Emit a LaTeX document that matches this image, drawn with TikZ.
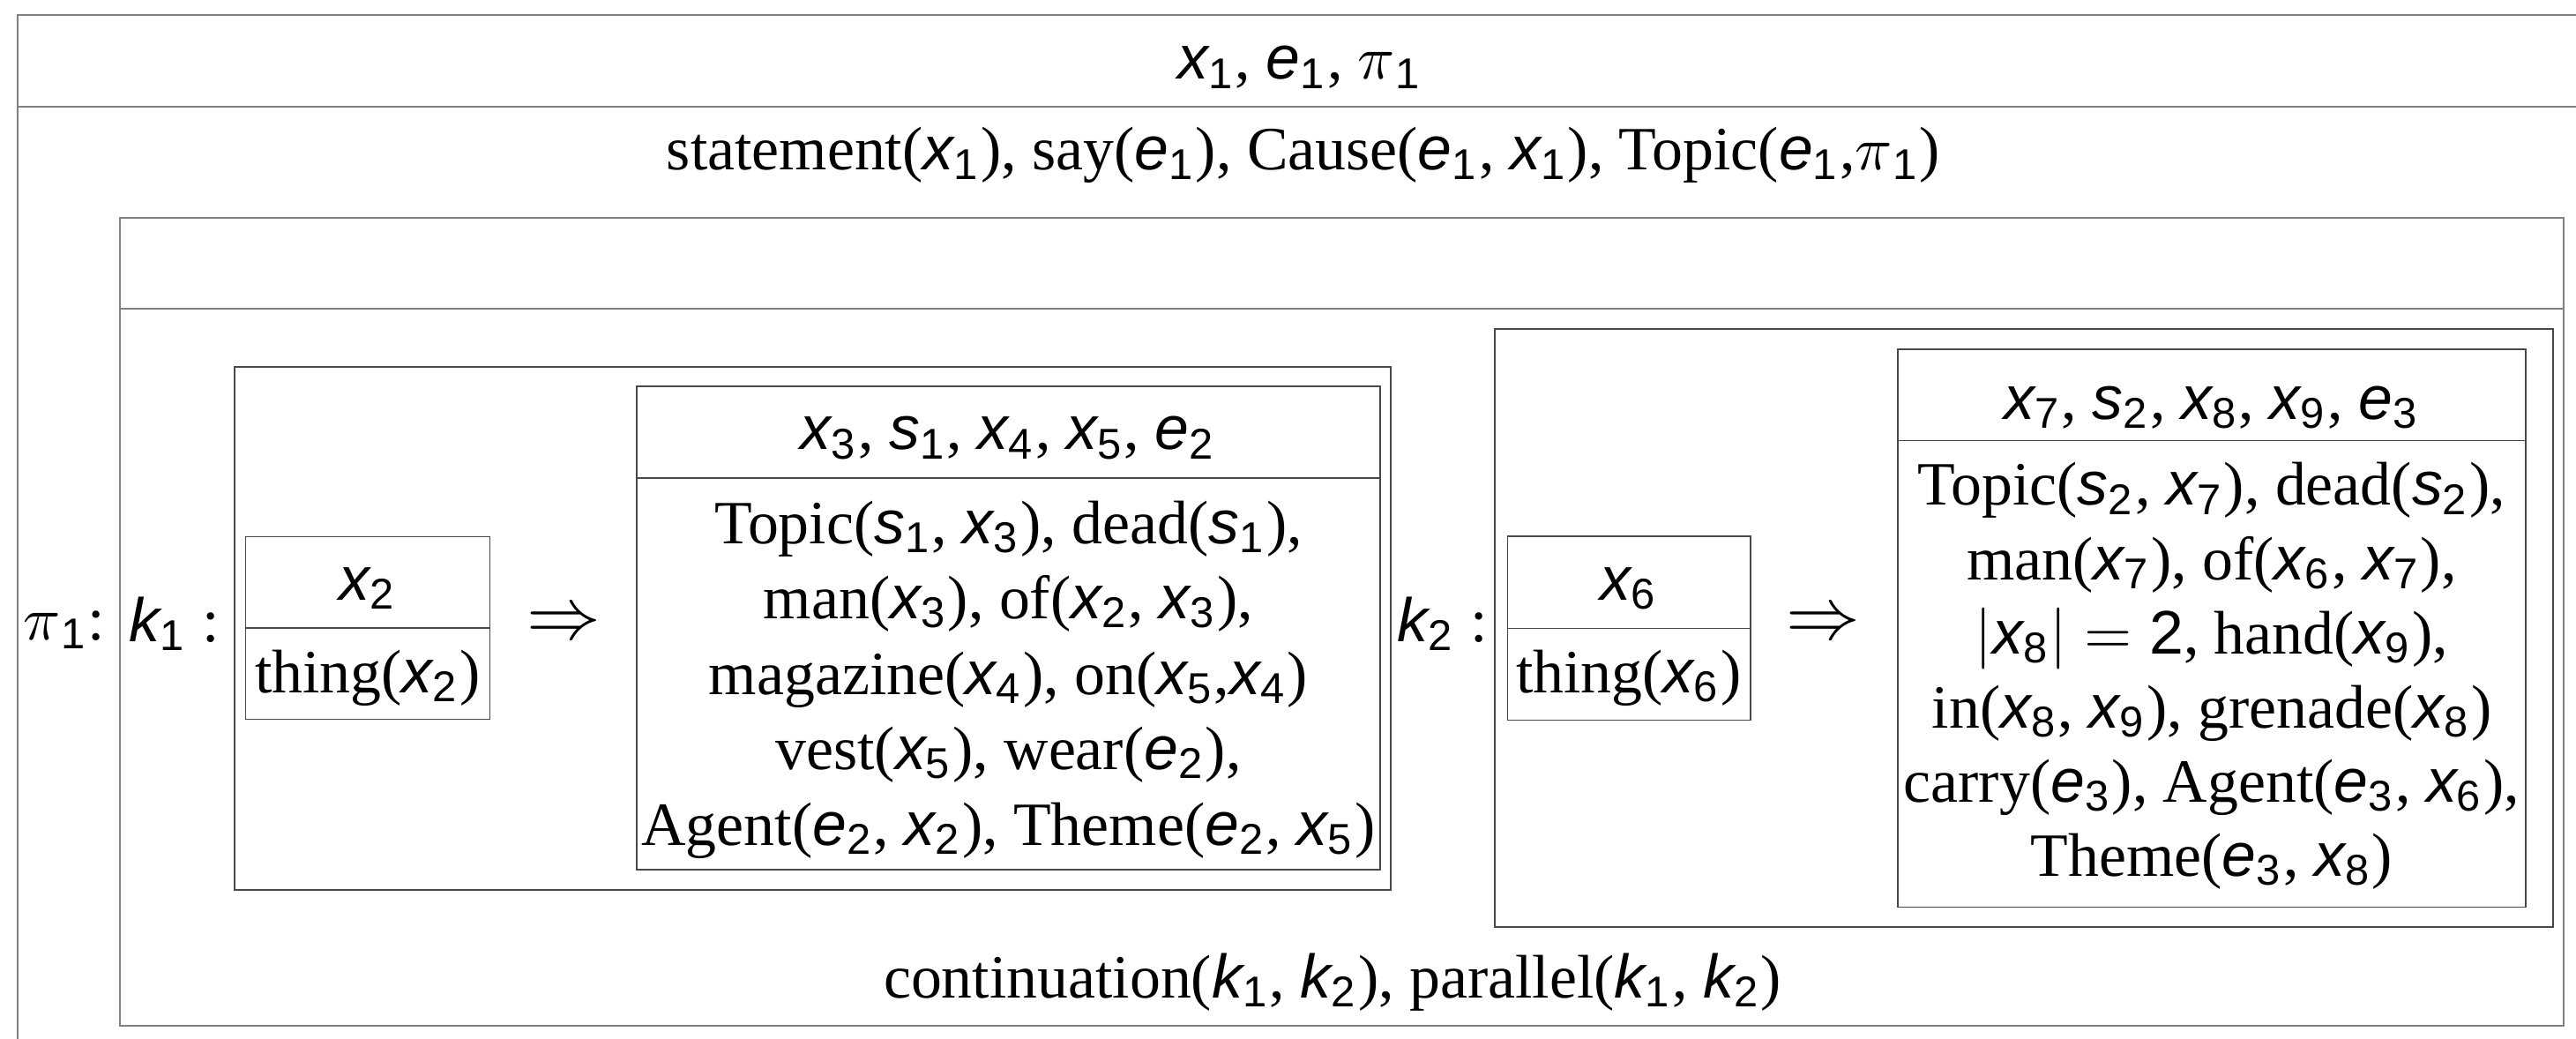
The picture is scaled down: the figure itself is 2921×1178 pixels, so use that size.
\documentclass[tikz,border=0pt]{standalone}
\usepackage{fontspec}
\setmainfont{Liberation Serif}
\newfontfamily\hv{Liberation Sans}
\newcommand\V[2]{{\hv\itshape #1}\textsubscript{\hv #2}}
\newcommand\PIone{$\pi$\textsubscript{\hv 1}}
\definecolor{outerc}{HTML}{808080}
\definecolor{innerc}{HTML}{484848}
\begin{document}
\begin{tikzpicture}[x=0.1433pt,y=-0.1433pt,
  outerline/.style={draw=outerc, line width=0.3pt},
  boxline/.style={draw=innerc, line width=0.2pt},
  txt/.style={inner sep=0pt, anchor=base, font=\fontsize{10}{12}\selectfont},
  implies/.style={inner sep=0pt, font=\fontsize{12}{14}\selectfont}]
\useasboundingbox (0,0) rectangle (2921,1178);
% outermost DRS (open to the right and bottom)
\coordinate (oTL) at (20,17);
\draw[outerline] (20,1190) -- (oTL) -- (2935,17);
\draw[outerline] (20,121) -- (2935,121);
\node[txt] (hdr) at (1474,90) {\V{x}{1}, \V{e}{1}, \PIone};
\node[txt] (cond) at (1478,193) {statement(\V{x}{1}), say(\V{e}{1}), Cause(\V{e}{1}, \V{x}{1}), Topic(\V{e}{1},\PIone)};
% pi1 box
\coordinate (pTL) at (136,247);
\coordinate (pBR) at (2907,1163);
\draw[outerline] (pTL) rectangle (pBR);
\draw[outerline] (136,350) -- (2907,350);
\node[txt] (pilab) at (73,725) {\PIone:};
\node[txt] (k1lab) at (198,727) {\V{k}{1} :};
\node[txt] (k2lab) at (1636,727) {\V{k}{2} :};
\node[txt] (rel) at (1511,1131) {continuation(\V{k}{1}, \V{k}{2}), parallel(\V{k}{1}, \V{k}{2})};
% k1 box
\draw[boxline] (266,416) rectangle (1577,1009);
% x2 box
\draw[boxline] (278.6,608.7) rectangle (555.6,815.7);
\draw[boxline] (278.6,712) -- (555.6,712);
\node[txt] (x2h) at (417,680) {\V{x}{2}};
\node[txt] (x2b) at (417,785) {thing(\V{x}{2})};
\node[implies] (imp1) at (639,709) {$\Rightarrow$};
% consequent box 1
\draw[boxline] (722,438) rectangle (1565,986);
\draw[boxline] (722,542) -- (1565,542);
\node[txt] (c1h) at (1143.5,510) {\V{x}{3}, \V{s}{1}, \V{x}{4}, \V{x}{5}, \V{e}{2}};
\node[txt] (c1a) at (1143.5,616) {Topic(\V{s}{1}, \V{x}{3}), dead(\V{s}{1}),};
\node[txt] (c1b) at (1143.5,701.5) {man(\V{x}{3}), of(\V{x}{2}, \V{x}{3}),};
\node[txt] (c1c) at (1143.5,787) {magazine(\V{x}{4}), on(\V{x}{5},\V{x}{4})};
\node[txt] (c1d) at (1143.5,872.5) {vest(\V{x}{5}), wear(\V{e}{2}),};
\node[txt] (c1e) at (1143.5,958) {Agent(\V{e}{2}, \V{x}{2}), Theme(\V{e}{2}, \V{x}{5})};
% k2 box
\draw[boxline] (1695,373) rectangle (2895,1051);
% x6 box
\draw[boxline] (1709.5,608) rectangle (1985,816.5);
\draw[boxline] (1709.5,712.5) -- (1985,712.5);
\node[txt] (x6h) at (1847,680) {\V{x}{6}};
\node[txt] (x6b) at (1847,785) {thing(\V{x}{6})};
\node[implies] (imp2) at (2067.6,709) {$\Rightarrow$};
% consequent box 2
\draw[boxline] (2152,396) rectangle (2864,1028.6);
\draw[boxline] (2152,499.5) -- (2864,499.5);
\node[txt] (c2h) at (2508,475) {\V{x}{7}, \V{s}{2}, \V{x}{8}, \V{x}{9}, \V{e}{3}};
\node[txt] (c2a) at (2508,573) {Topic(\V{s}{2}, \V{x}{7}), dead(\V{s}{2}),};
\node[txt] (c2b) at (2508,657) {man(\V{x}{7}), of(\V{x}{6}, \V{x}{7}),};
\node[txt] (c2c) at (2508,741) {$|$\V{x}{8}$| = \mbox{\hv 2}$, hand(\V{x}{9}),};
\node[txt] (c2d) at (2508,825) {in(\V{x}{8}, \V{x}{9}), grenade(\V{x}{8})};
\node[txt] (c2e) at (2508,909) {carry(\V{e}{3}), Agent(\V{e}{3}, \V{x}{6}),};
\node[txt] (c2f) at (2508,993) {Theme(\V{e}{3}, \V{x}{8})};
\end{tikzpicture}
\end{document}
